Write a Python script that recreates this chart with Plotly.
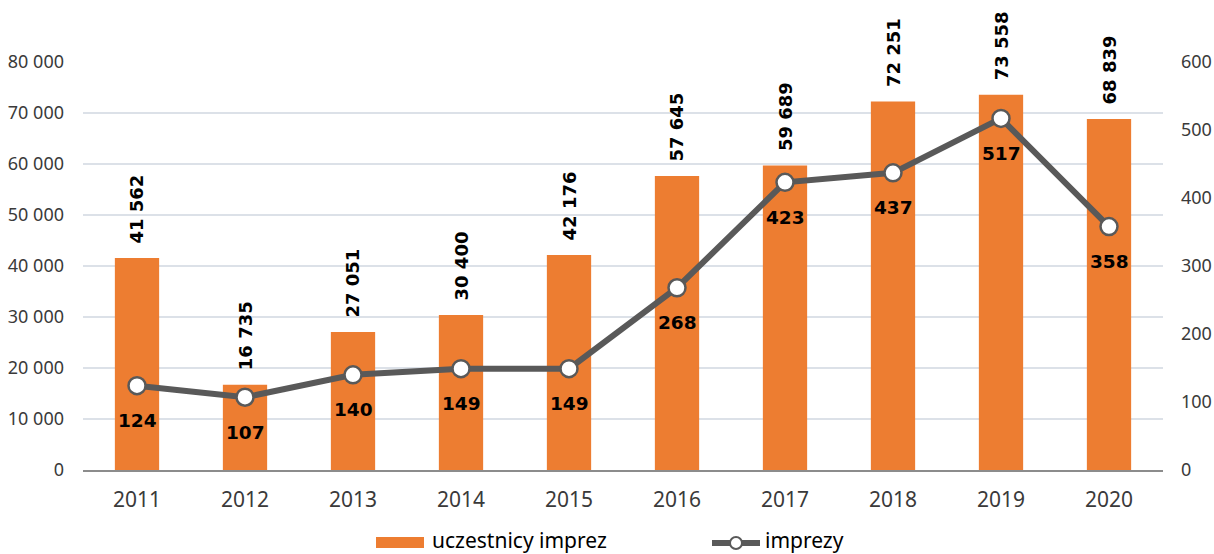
import plotly.graph_objects as go

years = [2011, 2012, 2013, 2014, 2015, 2016, 2017, 2018, 2019, 2020]
uczestnicy = [41562, 16735, 27051, 30400, 42176, 57645, 59689, 72251, 73558, 68839]
imprezy = [124, 107, 140, 149, 149, 268, 423, 437, 517, 358]
left_ticks = [0, 10000, 20000, 30000, 40000, 50000, 60000, 70000, 80000]
right_ticks = [0, 100, 200, 300, 400, 500, 600]

ORANGE = "#ED7D31"
GRAY = "#595959"
FONT = "Noto Sans"
BOLD_FONT = "DejaVu Sans"
TICK_COLOR = "#3A3A3A"

# plot area in pixels (used to place the hand-drawn legend)
L, R, T, B = 83, 1163, 62, 470
W, H = R - L, B - T


def fmt(v):
    return f"{v:,}".replace(",", " ")


def px_x(p):
    return (p - L) / W


def px_y(p):
    return (B - p) / H


fig = go.Figure()

fig.add_trace(go.Bar(
    x=years, y=uczestnicy, name="uczestnicy imprez",
    marker=dict(color=ORANGE, line=dict(width=0)),
    width=0.41, yaxis="y", hoverinfo="x+y",
))

fig.add_trace(go.Scatter(
    x=years, y=imprezy, name="imprezy", yaxis="y2",
    mode="lines+markers",
    line=dict(color=GRAY, width=6),
    marker=dict(size=17, color="white", line=dict(color=GRAY, width=2.5)),
))

annotations = []
for yr, v in zip(years, uczestnicy):
    annotations.append(dict(
        x=yr, y=v, xref="x", yref="y", text=fmt(v), showarrow=False,
        textangle=-90, yanchor="bottom", xanchor="center", yshift=12,
        font=dict(family=BOLD_FONT, size=18, color="black", weight="bold"),
    ))
for yr, v in zip(years, imprezy):
    annotations.append(dict(
        x=yr, y=v, xref="x", yref="y2", text=str(v), showarrow=False,
        yanchor="middle", xanchor="center", yshift=-35,
        font=dict(family=BOLD_FONT, size=18.5, color="black", weight="bold"),
    ))

# legend entries
annotations.append(dict(
    x=px_x(430), y=px_y(540), xref="paper", yref="paper", text="uczestnicy imprez",
    showarrow=False, xanchor="left", yanchor="middle",
    font=dict(family=FONT, size=21, color="black"),
))
annotations.append(dict(
    x=px_x(763), y=px_y(540), xref="paper", yref="paper", text="imprezy",
    showarrow=False, xanchor="left", yanchor="middle",
    font=dict(family=FONT, size=21, color="black"),
))

shapes = [
    dict(type="rect", xref="paper", yref="paper",
         x0=px_x(376), x1=px_x(424), y0=px_y(548), y1=px_y(537),
         fillcolor=ORANGE, line=dict(width=0)),
    dict(type="line", xref="paper", yref="paper",
         x0=px_x(712), x1=px_x(760), y0=px_y(543), y1=px_y(543),
         line=dict(color=GRAY, width=6)),
    dict(type="circle", xref="paper", yref="paper",
         x0=px_x(730), x1=px_x(742), y0=px_y(549), y1=px_y(537),
         fillcolor="white", line=dict(color=GRAY, width=2)),
]

fig.update_layout(
    width=1214, height=554,
    margin=dict(l=L, r=1214 - R, t=T, b=554 - B),
    paper_bgcolor="white", plot_bgcolor="white",
    font=dict(family=FONT, size=18, color=TICK_COLOR),
    showlegend=False,
    xaxis=dict(
        type="linear", range=[2010.5, 2020.5], tickmode="array",
        tickvals=years, ticktext=[str(y) for y in years], automargin=False,
        showgrid=False, showline=True, linecolor="#8C8C8C", zeroline=False,
        linewidth=2, ticks="", tickfont=dict(size=21, color=TICK_COLOR),
        ticklabelstandoff=10,
    ),
    yaxis=dict(
        range=[0, 80000], tickmode="array", tickvals=left_ticks,
        ticktext=[fmt(t) for t in left_ticks], showgrid=True, automargin=False,
        gridcolor="#DCE1E8", gridwidth=1.5, zeroline=False,
        tickfont=dict(size=18, color=TICK_COLOR), ticklabelstandoff=18,
    ),
    yaxis2=dict(
        range=[0, 600], tickmode="array", tickvals=right_ticks,
        ticktext=[str(t) for t in right_ticks], overlaying="y", side="right",
        showgrid=False, zeroline=False, automargin=False,
        tickfont=dict(size=18, color=TICK_COLOR), ticklabelstandoff=17,
    ),
    annotations=annotations,
    shapes=shapes,
)

fig.write_html("out.html")
